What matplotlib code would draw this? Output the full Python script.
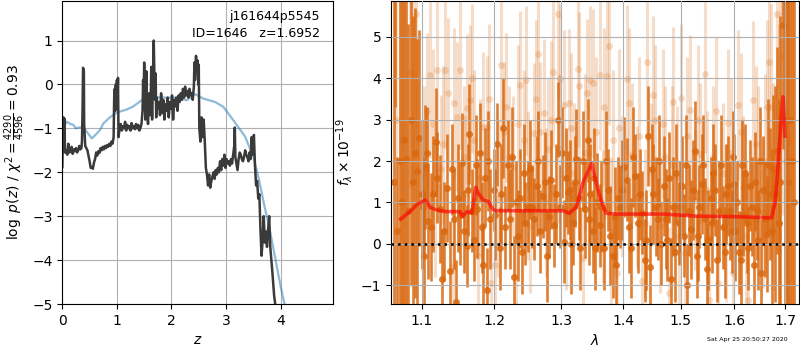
import matplotlib
matplotlib.use("Agg")
import matplotlib.pyplot as plt
from matplotlib.ticker import FixedLocator, FixedFormatter, NullLocator

# ---------------- redshift probability ----------------
z_pz = [0.00, 0.01, 0.02, 0.03, 0.04, 0.05, 0.07, 0.09, 0.11, 0.13, 0.15, 0.17,
        0.19, 0.21, 0.23, 0.25, 0.27, 0.29, 0.31, 0.33, 0.35, 0.36, 0.37, 0.38,
        0.395, 0.40, 0.42, 0.44, 0.46, 0.48, 0.50, 0.52, 0.54, 0.56, 0.58, 0.60,
        0.62, 0.64, 0.66, 0.68, 0.70, 0.72, 0.74, 0.76, 0.78, 0.80, 0.82, 0.84,
        0.86, 0.88, 0.90, 0.92, 0.94, 0.95, 0.96, 0.97, 0.98, 0.99, 1.00, 1.01,
        1.02, 1.03, 1.05, 1.07, 1.09, 1.11, 1.13, 1.15, 1.17, 1.19, 1.21, 1.23,
        1.25, 1.27, 1.29, 1.31, 1.33, 1.35, 1.37, 1.39, 1.41, 1.43, 1.45, 1.47,
        1.48, 1.49, 1.50, 1.51, 1.52, 1.53, 1.54, 1.55, 1.57, 1.59, 1.61, 1.62,
        1.63, 1.645, 1.66, 1.675, 1.69, 1.70, 1.71, 1.72, 1.73, 1.75, 1.77, 1.79,
        1.81, 1.83, 1.85, 1.87, 1.89, 1.91, 1.93, 1.95, 1.97, 1.99, 2.01, 2.03,
        2.05, 2.07, 2.09, 2.11, 2.13, 2.15, 2.17, 2.19, 2.21, 2.23, 2.25, 2.27,
        2.29, 2.31, 2.33, 2.35, 2.37, 2.39, 2.41, 2.42, 2.43, 2.45, 2.46, 2.475,
        2.49, 2.50, 2.51, 2.53, 2.55, 2.57, 2.59, 2.61, 2.63, 2.65, 2.67, 2.69,
        2.71, 2.73, 2.75, 2.77, 2.79, 2.81, 2.83, 2.85, 2.87, 2.89, 2.91, 2.93,
        2.95, 2.97, 2.99, 3.01, 3.03, 3.05, 3.07, 3.09, 3.11, 3.13, 3.15, 3.16,
        3.17, 3.19, 3.21, 3.23, 3.25, 3.27, 3.29, 3.31, 3.33, 3.35, 3.37, 3.39,
        3.41, 3.43, 3.45, 3.47, 3.49, 3.51, 3.53, 3.55, 3.57, 3.59, 3.61, 3.63,
        3.65, 3.67, 3.69, 3.71, 3.73, 3.75, 3.77, 3.79, 3.81, 3.85, 3.88, 3.91]
logp = [-1.88, -1.20, -0.75, -1.45, -0.78, -1.55, -1.50, -1.60, -1.35, -1.55, -1.50, -1.42,
        -1.58, -1.48, -1.52, -1.45, -1.55, -1.50, -1.40, -1.48, -1.45, -1.30, -0.60, 0.38,
        0.30, -0.90, -1.40, -1.45, -1.50, -1.62, -1.75, -1.90, -1.88, -1.92, -1.78, -1.70,
        -1.55, -1.62, -1.52, -1.56, -1.45, -1.50, -1.42, -1.48, -1.40, -1.45, -1.38, -1.42,
        -1.35, -1.40, -1.30, -1.35, -1.20, -0.30, -0.10, -0.60, 0.00, -0.50, 0.10, -0.40,
        0.15, -1.20, -1.00, -0.90, -1.05, -0.95, -1.00, -0.85, -1.05, -0.92, -1.00, -0.95,
        -1.05, -0.88, -1.00, -0.95, -1.02, -0.90, -1.00, -0.92, -1.05, -1.00, -0.90, -0.60,
        0.10, -0.30, 0.50, -0.20, -0.80, -0.10, 0.30, -0.50, -0.90, -0.20, -0.70, -0.30,
        0.40, -0.80, 0.20, 1.00, 0.00, -0.35, 0.25, -0.75, -0.30, -0.55, -0.40, -0.70,
        -0.20, -0.65, -0.35, -0.80, -0.45, -0.60, -0.30, -0.75, -0.40, -0.55, -0.25, -0.80,
        -0.35, -0.50, -0.30, -0.60, -0.25, -0.40, -0.20, -0.35, -0.10, -0.30, -0.05, -0.25,
        -0.15, -0.30, -0.10, -0.25, -0.20, -0.35, -0.05, 0.50, 0.10, 0.65, 0.30, 0.55,
        0.00, 0.45, -1.00, -1.30, -0.75, -1.20, -0.80, -1.30, -1.90, -2.05, -2.30, -2.05,
        -2.35, -2.20, -2.10, -2.00, -2.15, -1.95, -2.05, -1.90, -2.00, -1.75, -1.95, -1.70,
        -1.85, -1.60, -1.90, -1.70, -1.80, -1.75, -1.85, -1.70, -1.80, -1.60, -1.40, -0.98,
        -1.65, -1.80, -1.95, -1.70, -1.55, -1.60, -1.70, -1.75, -1.65, -1.50, -1.60, -1.65,
        -1.75, -1.55, -1.70, -1.20, -1.60, -1.15, -1.85, -2.30, -2.20, -2.60, -2.50, -3.30,
        -3.90, -3.55, -3.00, -3.60, -3.35, -3.70, -3.30, -3.00, -3.70, -4.30, -4.80, -5.10]

z_prior = [0.00, 0.03, 0.08, 0.15, 0.20, 0.25, 0.30, 0.38, 0.45, 0.54, 0.63, 0.70,
           0.75, 0.87, 1.00, 1.18, 1.30, 1.40, 1.45, 1.55, 1.70, 1.90, 2.10, 2.28,
           2.43, 2.58, 2.80, 2.95, 3.13, 3.35, 3.50, 3.60, 3.70, 3.80, 3.90, 4.00,
           4.07, 4.12]
logp_prior = [-1.05, -0.95, -0.85, -0.90, -0.92, -1.00, -0.98, -0.97, -1.08, -1.23, -1.12, -1.02,
              -0.89, -0.75, -0.64, -0.57, -0.50, -0.41, -0.36, -0.30, -0.29, -0.30, -0.30, -0.36,
              -0.22, -0.32, -0.40, -0.51, -0.81, -1.19, -1.65, -2.15, -2.75, -3.30, -3.95, -4.60,
              -5.00, -5.30]

# ---------------- grism spectrum ----------------
wave_hi = [1.0635, 1.0650, 1.0685, 1.0715, 1.0745, 1.0775, 1.0796, 1.0825, 1.0855, 1.0885,
           1.0915, 1.0943, 1.0969, 1.1000, 1.1030, 1.1048, 1.1088, 1.1124, 1.1155, 1.1191,
           1.1244, 1.1270, 1.1335, 1.1380, 1.1430, 1.1462, 1.1494, 1.1540, 1.1575, 1.1609,
           1.1646, 1.1680, 1.1712, 1.1759, 1.1797, 1.1844, 1.1870, 1.1892, 1.1940, 1.1990,
           1.2036, 1.2075, 1.2123, 1.2160, 1.2231, 1.2280, 1.2320, 1.2369, 1.2403, 1.2453,
           1.2528, 1.2560, 1.2588, 1.2628, 1.2670, 1.2714, 1.2755, 1.2806, 1.2842, 1.2893,
           1.2950, 1.2986, 1.3038, 1.3080, 1.3106, 1.3142, 1.3184, 1.3237, 1.3274, 1.3300,
           1.3375, 1.3418, 1.3461, 1.3500, 1.3541, 1.3577, 1.3612, 1.3677, 1.3748, 1.3786,
           1.3830, 1.3869, 1.3910, 1.3952, 1.4019, 1.4075, 1.4136, 1.4204, 1.4261, 1.4318,
           1.4375, 1.4421, 1.4461, 1.4519, 1.4594, 1.4652, 1.4711, 1.4764, 1.4823, 1.4870,
           1.4918, 1.4966, 1.5020, 1.5068, 1.5122, 1.5183, 1.5262, 1.5300, 1.5342, 1.5385,
           1.5447, 1.5509, 1.5552, 1.5602, 1.5664, 1.5715, 1.5790, 1.5841, 1.5885, 1.5949,
           1.6000, 1.6045, 1.6085, 1.6122, 1.6165, 1.6205, 1.6270, 1.6335, 1.6400, 1.6466,
           1.6512, 1.6564, 1.6631, 1.6697, 1.6764, 1.6831, 1.6870, 1.6899, 1.6966, 1.7005,
           1.7034, 1.7068, 1.7102, 1.7140, 1.7175,
           1.1020, 1.1070, 1.1210, 1.1300, 1.1405, 1.1520, 1.1625, 1.1735, 1.1820, 1.1915,
           1.2010, 1.2100, 1.2195, 1.2255, 1.2345, 1.2430, 1.2490, 1.2650, 1.2780, 1.2920,
           1.3010, 1.3160, 1.3210, 1.3340, 1.3440, 1.3520, 1.3640, 1.3720, 1.3890, 1.3985,
           1.4105, 1.4170, 1.4290, 1.4400, 1.4490, 1.4560, 1.4620, 1.4740, 1.4800, 1.4895,
           1.4995, 1.5095, 1.5150, 1.5220, 1.5320, 1.5410, 1.5480, 1.5575, 1.5635, 1.5750,
           1.5815, 1.5915, 1.5975, 1.6020, 1.6145, 1.6240, 1.6300, 1.6370, 1.6430, 1.6490,
           1.6600, 1.6665, 1.6730, 1.6800]
flux_hi = [1.50, 6.50, 0.30, 2.00, 1.00, 2.50, 2.05, 0.80, 3.00, 1.50,
           2.20, 1.75, 2.55, 1.20, -0.30, 1.85, 0.55, 0.40, 1.20, 2.45,
           0.85, -0.85, 1.35, -0.65, 0.60, -1.40, 1.10, 1.95, 0.30, -0.05,
           2.65, 0.80, 0.10, 0.85, 2.20, -0.50, 1.60, -1.10, 0.60, 1.30,
           2.40, -0.10, 2.80, 0.40, 0.60, -0.80, 1.00, 1.10, -0.20, 0.50,
           1.80, 0.90, 0.60, 1.40, 0.30, 1.15, 1.50, 0.65, 1.55, 0.45,
           3.00, 0.90, 0.05, 1.60, 1.25, 1.30, 0.50, 2.05, 1.10, -0.10,
           0.85, 2.50, 1.20, 0.30, -0.10, 1.00, 0.45, -0.10, 1.30, 0.20,
           -0.30, 0.65, 1.10, 0.90, 1.85, 1.55, -0.10, 1.65, 0.50, 0.75,
           -0.40, 2.60, -0.55, 1.20, 0.60, 0.00, 1.40, 0.10, -0.85, 0.90,
           1.70, 0.50, 1.40, 0.20, -1.00, 0.35, 2.25, -0.30, 0.90, 1.45,
           0.60, 0.10, 1.10, 1.70, -0.40, 0.80, 0.40, 1.20, 1.40, 0.30,
           1.45, 1.00, -0.20, -0.40, 0.70, 1.70, -0.10, 0.90, 1.50, 0.10,
           -0.70, 1.30, 0.25, 1.20, 1.80, 2.25, 0.50, 1.50, 5.28, 3.00,
           2.00, 1.50, 3.00, 2.00, 1.00,
           0.90, 2.20, 1.60, 0.30, 1.80, 0.70, 1.30, 1.90, 0.40, 2.00,
           0.70, 1.20, 1.90, 2.10, 0.20, 1.70, 0.90, 2.00, -0.30, 1.20,
           2.20, 0.00, 1.50, 2.00, 0.60, 1.60, 0.90, 2.00, -0.50, 1.30,
           0.40, 2.10, 1.20, 0.10, 1.80, 0.90, 2.00, 0.60, 1.60, -0.20,
           0.90, 1.90, 0.80, 1.30, 0.20, 1.90, -0.60, 0.50, 1.30, 1.90,
           -0.20, 0.80, 2.10, 0.30, 1.90, 0.50, 1.40, -0.50, 0.80, 2.00,
           0.60, 1.90, 0.30, 1.20]
err_hi = [6.0, 3.2, 1.8, 5.0, 5.5, 4.5, 4.0, 4.5, 4.0, 4.0,
          3.5, 3.2, 2.6, 1.8, 1.6, 1.5, 1.4, 1.3, 1.4, 1.3,
          1.3, 1.2, 1.3, 1.2, 1.2, 1.0, 1.3, 1.2, 1.0, 1.0,
          1.2, 1.0, 1.0, 1.2, 1.2, 1.0, 1.2, 1.0, 1.2, 1.0,
          1.0, 1.0, 1.2, 1.0, 1.2, 1.0, 1.0, 1.2, 1.0, 1.0,
          1.2, 1.0, 1.0, 1.2, 1.0, 1.0, 1.2, 1.0, 1.2, 1.0,
          0.9, 1.0, 1.0, 1.2, 1.0, 1.2, 1.0, 1.2, 1.0, 1.0,
          1.2, 1.0, 1.2, 1.0, 1.0, 1.2, 1.0, 1.0, 1.0, 1.2,
          1.0, 1.2, 1.0, 1.0, 1.2, 1.0, 1.2, 1.0, 1.2, 1.0,
          1.0, 1.2, 1.0, 1.2, 1.0, 1.0, 1.2, 1.0, 1.0, 1.2,
          1.2, 1.0, 1.2, 1.0, 1.0, 1.2, 1.2, 1.0, 1.0, 1.2,
          1.0, 1.2, 1.0, 1.2, 1.0, 1.2, 1.0, 1.2, 1.2, 1.0,
          1.2, 1.0, 1.0, 1.2, 1.0, 1.2, 1.0, 1.2, 1.2, 1.2,
          1.3, 1.3, 1.4, 1.6, 1.8, 2.5, 3.0, 4.0, 3.0, 4.5,
          5.0, 6.0, 6.0, 6.0, 7.0,
          1.2, 1.1, 1.1, 1.2, 1.1, 1.2, 1.1, 1.2, 1.1, 1.2,
          1.1, 1.2, 1.1, 1.2, 1.1, 1.2, 1.1, 1.2, 1.1, 1.2,
          1.1, 1.2, 1.1, 1.2, 1.1, 1.2, 1.1, 1.2, 1.1, 1.2,
          1.1, 1.2, 1.1, 1.2, 1.1, 1.2, 1.1, 1.2, 1.1, 1.2,
          1.1, 1.2, 1.1, 1.2, 1.1, 1.2, 1.1, 1.2, 1.1, 1.2,
          1.1, 1.2, 1.1, 1.2, 1.1, 1.2, 1.1, 1.2, 1.2, 1.3,
          1.4, 1.6, 2.0, 2.6]

wave_lo = [1.0660, 1.0720, 1.0760, 1.0847, 1.0891, 1.0926, 1.1031, 1.1110, 1.1155, 1.1199,
           1.1256, 1.1312, 1.1357, 1.1417, 1.1471, 1.1517, 1.1572, 1.1609, 1.1656, 1.1712,
           1.1772, 1.1834, 1.1892, 1.1950, 1.2012, 1.2094, 1.2142, 1.2206, 1.2270, 1.2319,
           1.2378, 1.2428, 1.2468, 1.2518, 1.2578, 1.2638, 1.2679, 1.2729, 1.2791, 1.2873,
           1.2945, 1.2986, 1.3038, 1.3116, 1.3195, 1.3258, 1.3274, 1.3343, 1.3407, 1.3450,
           1.3514, 1.3612, 1.3666, 1.3731, 1.3775, 1.3841, 1.3908, 1.3980, 1.4064, 1.4148,
           1.4232, 1.4318, 1.4404, 1.4473, 1.4548, 1.4636, 1.4723, 1.4800, 1.4870, 1.4942,
           1.5002, 1.5080, 1.5171, 1.5262, 1.5354, 1.5447, 1.5528, 1.5602, 1.5697, 1.5778,
           1.5885, 1.5981, 1.6077, 1.6173, 1.6270, 1.6368, 1.6466, 1.6551, 1.6631, 1.6684,
           1.6764, 1.6831, 1.6899, 1.6940,
           1.1075, 1.1180, 1.1285, 1.1440, 1.1590, 1.1690, 1.1800, 1.1920, 1.2060, 1.2175,
           1.2340, 1.2490, 1.2610, 1.2760, 1.2840, 1.2960, 1.3080, 1.3160, 1.3380, 1.3560,
           1.3690, 1.3800, 1.3940, 1.4100, 1.4270, 1.4370, 1.4510, 1.4680, 1.4840, 1.4980,
           1.5120, 1.5310, 1.5480, 1.5650, 1.5830, 1.5930, 1.6120, 1.6220, 1.6410, 1.6600,
           1.6720, 1.6870, 1.7060]
flux_lo = [3.00, 1.00, 2.50, 4.15, 4.10, 5.55, 1.70, 4.07, 2.90, 4.20,
           1.80, 4.20, 3.65, -0.55, 3.07, 4.20, 2.10, 3.27, 3.47, 2.50,
           -0.30, 2.83, 2.83, -0.95, -0.50, 4.31, 2.70, 2.10, 1.86, -1.50,
           3.83, 2.50, 3.95, 0.42, 2.67, 4.58, 2.70, 3.15, 2.30, 4.15,
           5.55, 3.99, 3.35, 3.39, 1.70, 4.23, 3.80, -0.35, 3.63, 3.95,
           3.87, 4.07, 0.66, 4.05, 4.77, 2.50, -0.70, 1.38, 3.97, 2.18,
           1.14, -0.90, 4.39, 1.70, 2.99, 0.42, 2.10, -1.19, 3.43, 1.62,
           3.51, -0.22, 3.23, 1.06, 2.18, 4.10, -1.35, 2.10, -0.95, 1.70,
           2.91, -0.70, 3.35, 1.38, -1.35, 3.47, 2.02, 0.74, 3.31, 4.39,
           1.38, 5.55, 3.07, 4.50,
           3.20, 1.00, 2.40, 3.40, 1.20, 4.00, 1.60, 3.50, 1.10, 3.30,
           2.90, 1.40, 3.50, 1.00, 3.00, 2.30, 0.80, 2.80, 2.20, 2.70,
           3.30, 0.30, 2.80, 3.40, 2.60, 0.50, 3.60, 2.90, 1.90, 0.20,
           2.60, 3.00, 1.30, 3.20, 0.50, 2.20, 2.70, 0.20, 2.40, 2.00,
           3.30, 2.00, 2.50]
err_lo = [5.0, 5.0, 4.5, 2.8, 2.5, 2.8, 2.1, 2.0, 1.8, 1.9,
          1.8, 1.9, 1.8, 1.6, 1.8, 1.9, 1.7, 1.8, 1.8, 1.7,
          1.6, 1.8, 1.7, 1.6, 1.6, 1.9, 1.7, 1.7, 1.7, 1.6,
          1.8, 1.7, 1.8, 1.6, 1.7, 1.9, 1.7, 1.8, 1.7, 1.8,
          2.0, 1.8, 1.8, 1.8, 1.7, 1.9, 1.8, 1.6, 1.8, 1.8,
          1.8, 1.8, 1.6, 1.8, 1.9, 1.7, 1.6, 1.7, 1.8, 1.7,
          1.7, 1.6, 1.9, 1.7, 1.8, 1.6, 1.7, 1.6, 1.8, 1.7,
          1.8, 1.6, 1.8, 1.7, 1.7, 1.9, 1.6, 1.7, 1.6, 1.7,
          1.8, 1.6, 1.8, 1.7, 1.6, 1.9, 1.8, 1.8, 2.1, 2.3,
          2.5, 2.8, 3.3, 3.8,
          1.9, 1.8, 1.9, 1.8, 1.9, 1.8, 1.9, 1.8, 1.9, 1.8,
          1.9, 1.8, 1.9, 1.8, 1.9, 1.8, 1.9, 1.8, 1.9, 1.8,
          1.9, 1.8, 1.9, 1.8, 1.9, 1.8, 1.9, 1.8, 1.9, 1.8,
          1.9, 1.8, 1.9, 1.8, 1.9, 1.8, 1.9, 1.8, 1.9, 2.1,
          2.5, 3.3, 4.3]

wave_model = [1.0727, 1.0847, 1.0943, 1.1057, 1.1110, 1.1199, 1.1312, 1.1517, 1.1554, 1.1609,
              1.1679, 1.1735, 1.1772, 1.1843, 1.1914, 1.1986, 1.2034, 1.3034, 1.3128, 1.3244,
              1.3350, 1.3484, 1.3565, 1.3619, 1.3717, 1.3894, 1.4692, 1.5290, 1.5913, 1.6727,
              1.6800, 1.6860, 1.6920, 1.6962, 1.7000]
flux_model = [0.60, 0.78, 0.96, 1.06, 0.88, 0.82, 0.78, 0.78, 0.66, 0.78,
              0.74, 1.36, 1.22, 1.06, 1.02, 0.82, 0.80, 0.80, 0.74, 0.90,
              1.50, 1.94, 1.42, 1.14, 0.74, 0.72, 0.72, 0.67, 0.66, 0.63,
              1.00, 1.90, 3.00, 3.55, 2.60]

field_name = "j161644p5545"
obj_id = 1646
z_best = 1.6952
chi2, dof = 4290, 4596
stamp = "Sat Apr 25 20:50:27 2020"

spec_color = "#d9680f"

fig = plt.figure(figsize=(8, 3.5), dpi=100)
ax1 = fig.add_axes([0.0779, 0.1314, 0.3384, 0.8657])
ax2 = fig.add_axes([0.4888, 0.1314, 0.5100, 0.8657])

# left: redshift PDF with prior
ax1.plot(z_prior, logp_prior, color="#1f77b4", alpha=0.5, lw=1.6)
ax1.plot(z_pz, logp, color="#3a3a3a", lw=1.8)
ax1.set_xlim(0, 4.96)
ax1.set_ylim(-5, 1.9)
ax1.set_xticks([0, 1, 2, 3, 4])
ax1.set_yticks([-5, -4, -3, -2, -1, 0, 1])
ax1.grid(True)
ax1.set_xlabel(r"$z$", fontsize=10)
ax1.set_ylabel(r"$\log\ p(z)$ / $\chi^2=\frac{%d}{%d}=%.2f$" % (chi2, dof, chi2 / dof),
               fontsize=10)
ax1.text(0.95, 0.97, field_name, transform=ax1.transAxes, ha="right", va="top",
         fontsize=9)
ax1.text(0.95, 0.915, "ID=%d   z=%.4f" % (obj_id, z_best), transform=ax1.transAxes,
         ha="right", va="top", fontsize=9)

# right: 1D spectrum and best-fit model
ax2.errorbar(wave_lo, flux_lo, yerr=err_lo, color=spec_color, alpha=0.22,
             marker="o", ms=5, ls="none", elinewidth=2.2, mew=0)
ax2.errorbar(wave_hi, flux_hi, yerr=err_hi, color=spec_color, alpha=0.85,
             marker="o", ms=5, ls="none", elinewidth=1.9, mew=0)
ax2.plot(wave_model, flux_model, color="red", alpha=0.65, lw=2.6, zorder=4)
ax2.axhline(0, color="k", ls=":", lw=1.8, zorder=4)
ax2.set_xscale("log")
ax2.set_xlim(1.0603, 1.7288)
ax2.set_ylim(-1.45, 5.86)
lam_ticks = [1.1, 1.2, 1.3, 1.4, 1.5, 1.6, 1.7]
ax2.xaxis.set_major_locator(FixedLocator(lam_ticks))
ax2.xaxis.set_major_formatter(FixedFormatter(["%.1f" % t for t in lam_ticks]))
ax2.xaxis.set_minor_locator(NullLocator())
ax2.set_yticks([-1, 0, 1, 2, 3, 4, 5])
ax2.set_axisbelow(False)
ax2.grid(True, zorder=3)
ax2.set_xlabel(r"$\lambda$", fontsize=10)
ax2.set_ylabel(r"$f_\lambda\times10^{-19}$", fontsize=10)

fig.text(0.984, 0.022, stamp, ha="right", va="bottom", fontsize=4.5)

fig.savefig("out.png", dpi=100)
